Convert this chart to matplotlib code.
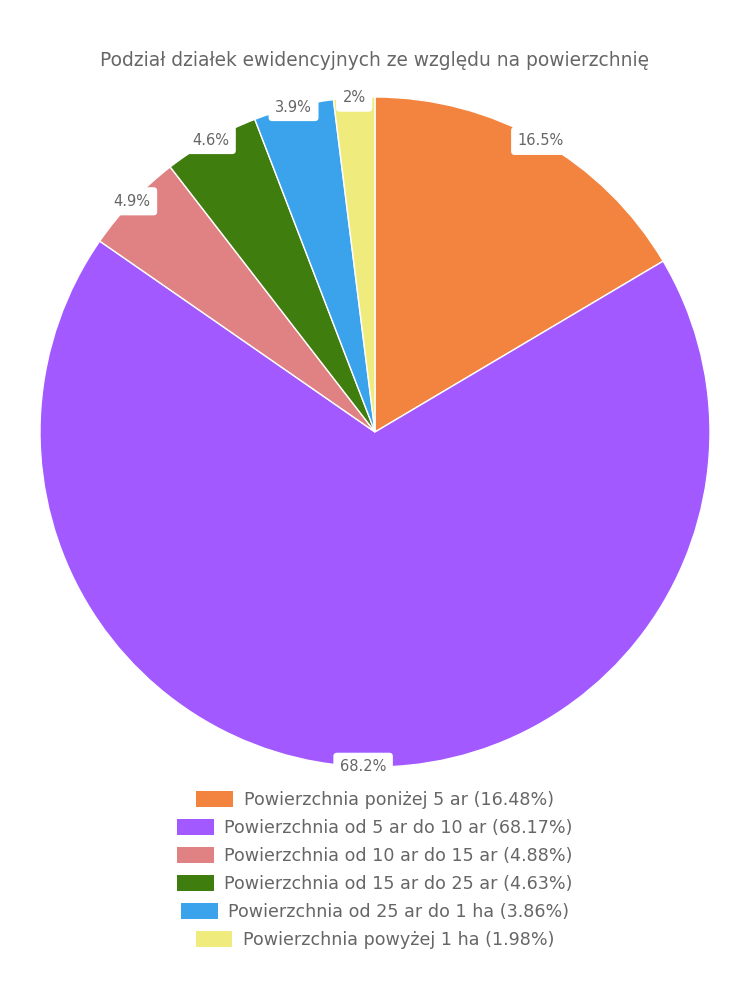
import matplotlib.pyplot as plt
from matplotlib.patches import Patch
import numpy as np

plt.rcParams['font.family'] = ['DejaVu Sans']

kategorie = ['Powierzchnia poniżej 5 ar', 'Powierzchnia od 5 ar do 10 ar',
             'Powierzchnia od 10 ar do 15 ar', 'Powierzchnia od 15 ar do 25 ar',
             'Powierzchnia od 25 ar do 1 ha', 'Powierzchnia powyżej 1 ha']
procenty = [16.48, 68.17, 4.88, 4.63, 3.86, 1.98]
kolory = ['#F3843F', '#A259FF', '#E08283', '#3F7D0F', '#3AA3EB', '#F0EB7D']
tytul = 'Podział działek ewidencyjnych ze względu na powierzchnię'
szary = '#666666'

fig = plt.figure(figsize=(7.5, 10), dpi=100)
ax = fig.add_axes([40 / 750, 233 / 1000, 670 / 750, 670 / 1000])
wedges, _ = ax.pie(procenty, colors=kolory, startangle=90, counterclock=False,
                   radius=1, wedgeprops=dict(edgecolor='white', linewidth=1))
ax.set_xlim(-1, 1)
ax.set_ylim(-1, 1)
ax.set_aspect('equal')
ax.axis('off')

# etykiety na krawędzi koła
for w, p in zip(wedges, procenty):
    kat = np.deg2rad((w.theta1 + w.theta2) / 2)
    x, y = np.cos(kat), np.sin(kat)
    tekst = f'{p:.1f}'.rstrip('0').rstrip('.') + '%'
    ax.text(x, y, tekst, ha='center', va='center', fontsize=10.5, color=szary,
            bbox=dict(boxstyle='round,pad=0.45,rounding_size=0.25', fc='white', ec='none'))

fig.text(0.5, 1 - 60 / 1000, tytul, ha='center', va='center', fontsize=13.4, color=szary)

# legenda - każdy wiersz wyśrodkowany osobno
for i, (k, p, c) in enumerate(zip(kategorie, procenty, kolory)):
    yc = 1 - (800 + 28 * i) / 1000
    leg = fig.legend(handles=[Patch(facecolor=c, edgecolor='none')],
                     labels=[f'{k} ({p:.2f}%)'], loc='center',
                     bbox_to_anchor=(0.5, yc), frameon=False, fontsize=12.6,
                     handlelength=2.1, handleheight=1.0, handletextpad=0.6,
                     borderpad=0, borderaxespad=0)
    for t in leg.get_texts():
        t.set_color(szary)

fig.savefig('out.png', dpi=100)
